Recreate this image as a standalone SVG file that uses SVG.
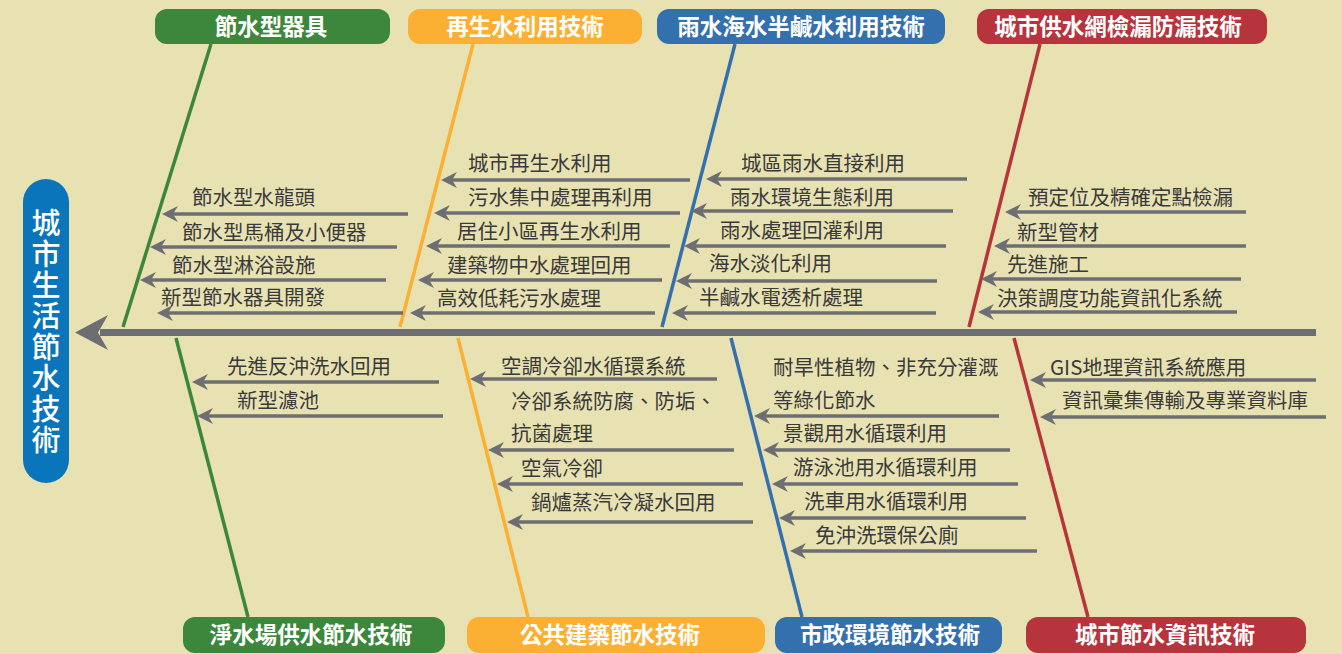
<svg xmlns="http://www.w3.org/2000/svg" width="1342" height="654" viewBox="0 0 1342 654">
<defs>
<style>
.t{font-family:"Noto Sans CJK TC","Noto Sans CJK SC",sans-serif;font-size:20.5px;fill:#3a3a3a}
.h{font-family:"Noto Sans CJK TC","Noto Sans CJK SC",sans-serif;font-size:22.5px;font-weight:bold;fill:#ffffff;text-anchor:middle}
.a{stroke:#6d6e71;stroke-width:3.5;fill:none;marker-end:url(#ah)}
.bone{stroke-width:3.5;fill:none}
.g{fill:#3c873b}.o{fill:#fbb034}.b{fill:#3470ae}.r{fill:#b8343c}
</style>
<marker id="ah" viewBox="0 0 16 16" refX="10" refY="8" markerWidth="16" markerHeight="16" markerUnits="userSpaceOnUse" orient="auto">
<path d="M0,0 L16,8 L0,16 L5,8 Z" fill="#6d6e71"/>
</marker>
</defs>
<rect width="1342" height="654" fill="#e8e2b3"/>

<g id="connectors">
<line x1="1316" y1="332.5" x2="100" y2="332.5" stroke="#6d6e71" stroke-width="7"/>
<path d="M75,332.5 L108,315 L98,332.5 L108,350 Z" fill="#6d6e71"/>
<line class="bone" x1="211" y1="44" x2="123" y2="327" stroke="#3c873b"/>
<line class="bone" x1="473" y1="44" x2="400" y2="327" stroke="#fbb034"/>
<line class="bone" x1="735" y1="44" x2="662" y2="327" stroke="#3470ae"/>
<line class="bone" x1="1040" y1="44" x2="969" y2="327" stroke="#b8343c"/>
<line class="bone" x1="176" y1="338" x2="248" y2="617" stroke="#3c873b"/>
<line class="bone" x1="458" y1="338" x2="528" y2="617" stroke="#fbb034"/>
<line class="bone" x1="731" y1="338" x2="802" y2="617" stroke="#3470ae"/>
<line class="bone" x1="1014" y1="338" x2="1088" y2="617" stroke="#b8343c"/>

<line class="a" x1="408" y1="214" x2="168" y2="214"/>
<line class="a" x1="397" y1="247" x2="156" y2="247"/>
<line class="a" x1="386" y1="280" x2="146" y2="280"/>
<line class="a" x1="403" y1="313" x2="163" y2="313"/>

<line class="a" x1="690" y1="180" x2="447" y2="180"/>
<line class="a" x1="680" y1="213" x2="440" y2="213"/>
<line class="a" x1="670" y1="246" x2="432" y2="246"/>
<line class="a" x1="662" y1="280" x2="424" y2="280"/>
<line class="a" x1="655" y1="313" x2="416" y2="313"/>

<line class="a" x1="967" y1="179" x2="712" y2="179"/>
<line class="a" x1="953" y1="211" x2="697" y2="211"/>
<line class="a" x1="946" y1="246" x2="690" y2="246"/>
<line class="a" x1="937" y1="281" x2="682" y2="281"/>
<line class="a" x1="936" y1="313" x2="678" y2="313"/>

<line class="a" x1="1246" y1="212" x2="1011" y2="212"/>
<line class="a" x1="1246" y1="246" x2="1000" y2="246"/>
<line class="a" x1="1241" y1="279" x2="987" y2="279"/>
<line class="a" x1="1237" y1="312" x2="984" y2="312"/>

<line class="a" x1="439" y1="382" x2="198" y2="382"/>
<line class="a" x1="443" y1="416" x2="203" y2="416"/>

<line class="a" x1="717" y1="379" x2="476" y2="379"/>
<line class="a" x1="734" y1="450" x2="494" y2="450"/>
<line class="a" x1="743" y1="484" x2="503" y2="484"/>
<line class="a" x1="753" y1="522" x2="513" y2="522"/>

<line class="a" x1="999" y1="416" x2="760" y2="416"/>
<line class="a" x1="1010" y1="450" x2="769" y2="450"/>
<line class="a" x1="1018" y1="484" x2="778" y2="484"/>
<line class="a" x1="1026" y1="518" x2="785" y2="518"/>
<line class="a" x1="1037" y1="551" x2="796" y2="551"/>

<line class="a" x1="1316" y1="380" x2="1036" y2="380"/>
<line class="a" x1="1326" y1="417" x2="1046" y2="417"/>
</g>

<g id="root">
<rect x="23" y="179" width="46" height="304" rx="23" fill="#0a75ba"/>
<text x="46" y="208" writing-mode="vertical-rl" letter-spacing="2" font-family="'Noto Sans CJK TC','Noto Sans CJK SC',sans-serif" font-size="29" font-weight="500" fill="#ffffff">城市生活節水技術</text>
</g>

<g id="cat-devices">
<rect class="g" x="155" y="9" width="235" height="35" rx="12"/>
<text class="h" x="271" y="35">節水型器具</text>
<text class="t" x="192" y="205">節水型水龍頭</text>
<text class="t" x="182" y="240">節水型馬桶及小便器</text>
<text class="t" x="172" y="273">節水型淋浴設施</text>
<text class="t" x="161" y="305">新型節水器具開發</text>
</g>

<g id="cat-reclaimed">
<rect class="o" x="408" y="9" width="234" height="35" rx="12"/>
<text class="h" x="525" y="35">再生水利用技術</text>
<text class="t" x="468" y="171">城市再生水利用</text>
<text class="t" x="468" y="205">污水集中處理再利用</text>
<text class="t" x="457" y="239">居住小區再生水利用</text>
<text class="t" x="447" y="273">建築物中水處理回用</text>
<text class="t" x="437" y="306">高效低耗污水處理</text>
</g>

<g id="cat-rain">
<rect class="b" x="657" y="9" width="288" height="35" rx="12"/>
<text class="h" x="801" y="35">雨水海水半鹹水利用技術</text>
<text class="t" x="741" y="171">城區雨水直接利用</text>
<text class="t" x="730" y="205">雨水環境生態利用</text>
<text class="t" x="720" y="238">雨水處理回灌利用</text>
<text class="t" x="709" y="271">海水淡化利用</text>
<text class="t" x="699" y="305">半鹹水電透析處理</text>
</g>

<g id="cat-leak">
<rect class="r" x="977" y="9" width="290" height="35" rx="12"/>
<text class="h" x="1118" y="35">城市供水網檢漏防漏技術</text>
<text class="t" x="1028" y="205">預定位及精確定點檢漏</text>
<text class="t" x="1017" y="240">新型管材</text>
<text class="t" x="1007" y="272">先進施工</text>
<text class="t" x="997" y="306">決策調度功能資訊化系統</text>
</g>

<g id="cat-plant">
<rect class="g" x="183" y="617" width="262" height="36" rx="12"/>
<text class="h" x="311" y="643">淨水場供水節水技術</text>
<text class="t" x="227" y="374">先進反沖洗水回用</text>
<text class="t" x="237" y="408">新型濾池</text>
</g>

<g id="cat-building">
<rect class="o" x="467" y="617" width="298" height="36" rx="12"/>
<text class="h" x="610" y="643">公共建築節水技術</text>
<text class="t" x="501" y="374">空調冷卻水循環系統</text>
<text class="t" x="511" y="409">冷卻系統防腐、防垢、</text>
<text class="t" x="511" y="441">抗菌處理</text>
<text class="t" x="521" y="476">空氣冷卻</text>
<text class="t" x="531" y="510">鍋爐蒸汽冷凝水回用</text>
</g>

<g id="cat-municipal">
<rect class="b" x="775" y="617" width="227" height="36" rx="12"/>
<text class="h" x="890" y="643">市政環境節水技術</text>
<text class="t" x="773" y="375">耐旱性植物、非充分灌溉</text>
<text class="t" x="773" y="408">等綠化節水</text>
<text class="t" x="783" y="441">景觀用水循環利用</text>
<text class="t" x="793" y="475">游泳池用水循環利用</text>
<text class="t" x="804" y="509">洗車用水循環利用</text>
<text class="t" x="815" y="543">免沖洗環保公廁</text>
</g>

<g id="cat-info">
<rect class="r" x="1026" y="617" width="280" height="36" rx="12"/>
<text class="h" x="1165" y="643">城市節水資訊技術</text>
<text class="t" x="1050" y="375">GIS地理資訊系統應用</text>
<text class="t" x="1062" y="408">資訊彙集傳輸及專業資料庫</text>
</g>
</svg>
